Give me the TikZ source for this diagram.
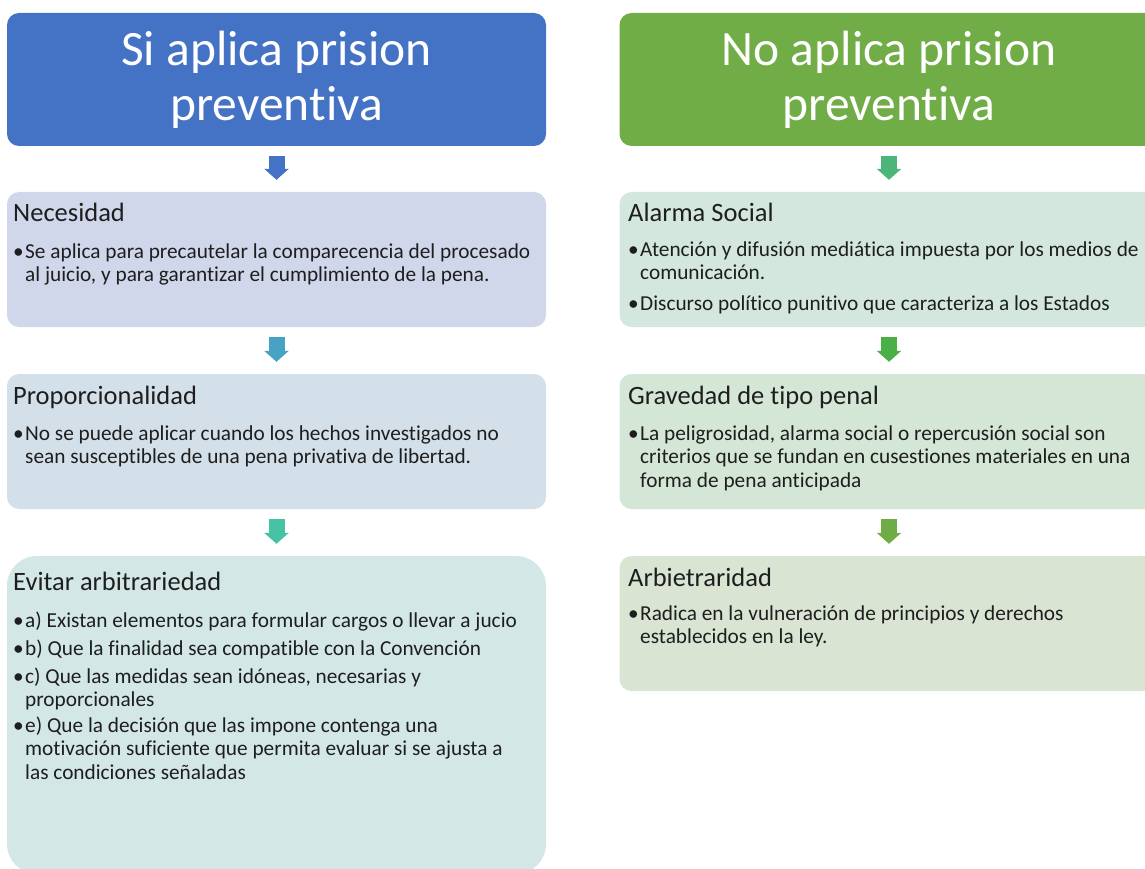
\documentclass[tikz,border=0pt]{standalone}
\usepackage{fontspec}
\setmainfont{Carlito}[Ligatures=NoCommon]
\usetikzlibrary{arrows.meta}
\usetikzlibrary{positioning}

\definecolor{siblue}{HTML}{4472C4}
\definecolor{nogreen}{HTML}{70AD47}
\definecolor{arrA}{HTML}{4472C4}
\definecolor{arrB}{HTML}{48A2C3}
\definecolor{arrC}{HTML}{48C2A5}
\definecolor{arrD}{HTML}{4DB57A}
\definecolor{arrE}{HTML}{4BAF48}
\definecolor{arrF}{HTML}{6FAC46}
\definecolor{fillnec}{HTML}{D1D7EB}
\definecolor{fillprop}{HTML}{D3E0EA}
\definecolor{fillevit}{HTML}{D3E8E6}
\definecolor{fillalar}{HTML}{D3E7DE}
\definecolor{fillgrav}{HTML}{D4E6D6}
\definecolor{fillarb}{HTML}{D9E4D3}
\definecolor{txtcol}{HTML}{1E1E1E}

\newcommand\lns[1]{\begin{tabular}[t]{@{}l@{}}#1\end{tabular}}
\newcommand\bul[1]{\makebox[12pt][l]{\textbullet}\lns{#1}}

\tikzset{
  box/.style={rounded corners=12pt,minimum width=539pt,minimum height=135pt,inner sep=0pt,draw=none},
  titlebox/.style={box,minimum height=133pt,text=white,align=center,font=\fontsize{49.5}{55}\selectfont},
  txt/.style={anchor=base west,inner sep=0pt,text=txtcol,font=\fontsize{21.3}{23.5}\selectfont},
  hd/.style={txt,font=\fontsize{26.5}{30}\selectfont},
  downarrow/.style={draw=#1,line width=16pt,-{Triangle[width=24pt,length=11pt]},shorten <=10pt,shorten >=12pt}
}

\begin{document}
\begin{tikzpicture}[x=1pt,y=-1pt]
\useasboundingbox (0,0) rectangle (1145,869);
\clip (0,0) rectangle (1145,869);
% left column
\node[titlebox,fill=siblue] (si) at (276.5,79.5) {Si aplica prision\\preventiva};
\node[box,fill=fillnec] (nec) at (276.5,259.5) {};
\node[box,fill=fillprop] (prop) at (276.5,441.5) {};
\node[box,fill=fillevit,minimum height=318pt,rounded corners=30pt] (evit) at (276.5,715) {};
\draw[downarrow=arrA] (si) -- (nec);
\draw[downarrow=arrB] (nec) -- (prop);
\draw[downarrow=arrC] (prop) -- (evit);
\node[hd] (nec-h) at (13,222) {Necesidad};
\node[txt] (nec-1) at (13,258) {\bul{Se aplica para precautelar la comparecencia del procesado\\al juicio, y para garantizar el cumplimiento de la pena.}};
\node[hd] (prop-h) at (13,404) {Proporcionalidad};
\node[txt] (prop-1) at (13,440) {\bul{No se puede aplicar cuando los hechos investigados no\\sean susceptibles de una pena privativa de libertad.}};
\node[hd] (evit-h) at (13,590) {Evitar arbitrariedad};
\node[txt] (evit-1) at (13,627) {\bul{a) Existan elementos para formular cargos o llevar a jucio}};
\node[txt] (evit-2) at (13,655) {\bul{b) Que la finalidad sea compatible con la Convención}};
\node[txt] (evit-3) at (13,683) {\bul{c) Que las medidas sean idóneas, necesarias y\\proporcionales}};
\node[txt] (evit-4) at (13,732) {\bul{e) Que la decisión que las impone contenga una\\motivación suficiente que permita evaluar  si se ajusta a\\las condiciones señaladas}};
% right column
\node[titlebox,fill=nogreen] (no) at (889,79.5) {No aplica prision\\preventiva};
\node[box,fill=fillalar] (alar) at (889,259.5) {};
\node[box,fill=fillgrav] (grav) at (889,441.5) {};
\node[box,fill=fillarb] (arb) at (889,623.5) {};
\draw[downarrow=arrD] (no) -- (alar);
\draw[downarrow=arrE] (alar) -- (grav);
\draw[downarrow=arrF] (grav) -- (arb);
\node[hd] (alar-h) at (628,222) {Alarma Social};
\node[txt] (alar-1) at (628,256) {\bul{Atención y difusión mediática impuesta por los medios de\\comunicación.}};
\node[txt] (alar-2) at (628,310) {\bul{Discurso político punitivo que caracteriza a los Estados}};
\node[hd] (grav-h) at (628,404) {Gravedad de tipo penal};
\node[txt] (grav-1) at (628,440) {\bul{La peligrosidad, alarma social o repercusión social son\\criterios que se fundan en cusestiones materiales en una\\forma de pena anticipada}};
\node[hd] (arb-h) at (628,586) {Arbietraridad};
\node[txt] (arb-1) at (628,620) {\bul{Radica en la vulneración de principios y derechos\\establecidos en la ley.}};
\end{tikzpicture}
\end{document}
